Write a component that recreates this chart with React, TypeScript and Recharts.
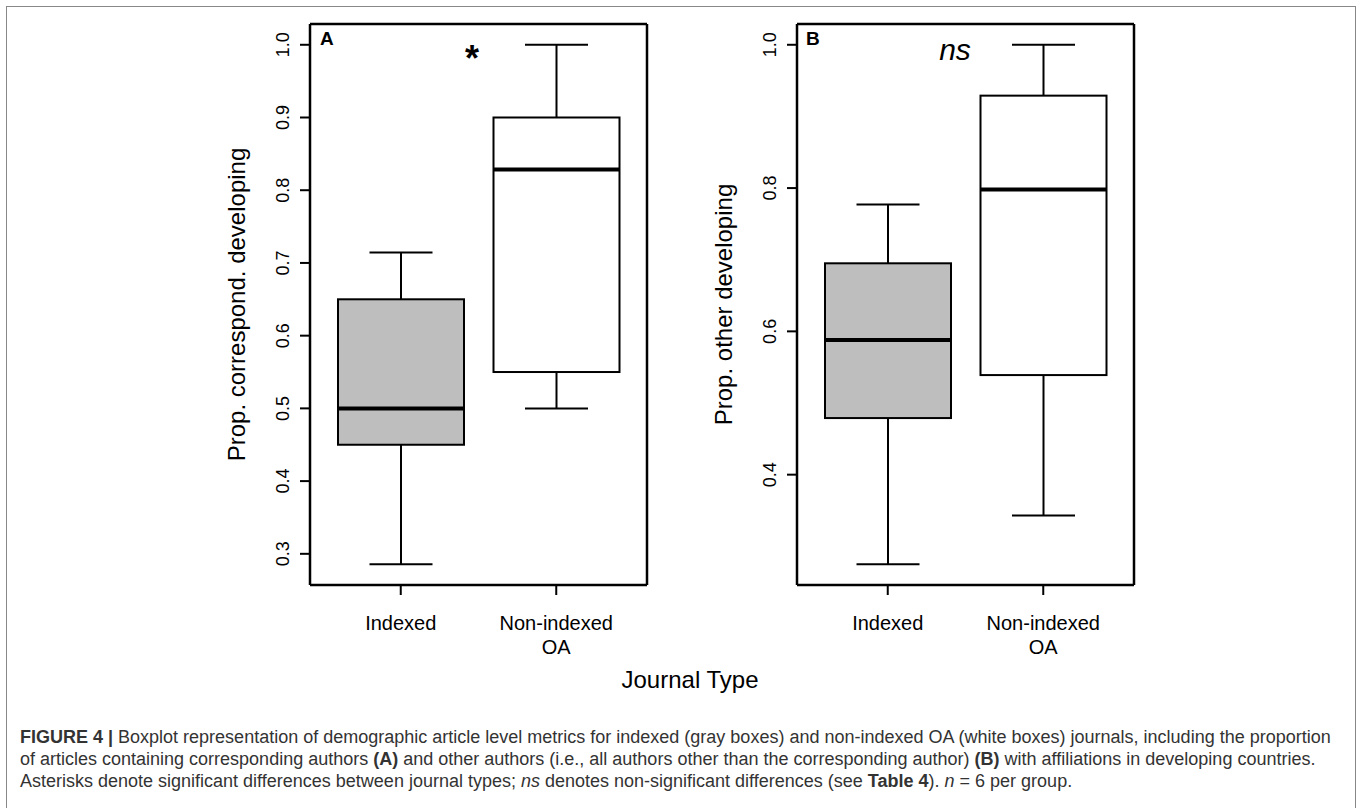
import React from 'react';
import { ComposedChart, Bar, XAxis, YAxis, CartesianGrid } from 'recharts';

// ---------- data ----------
const categories = ['Indexed', 'Non-indexed\nOA'];

// Panel A: proportion of articles with corresponding author in developing countries
const aMin = [0.2857, 0.5];
const aQ1 = [0.45, 0.55];
const aMedian = [0.5, 0.8286];
const aQ3 = [0.65, 0.9];
const aMax = [0.7143, 1.0];
const aTicks = [0.3, 0.4, 0.5, 0.6, 0.7, 0.8, 0.9, 1.0];
const aTitle = 'Prop. correspond. developing';

// Panel B: proportion of articles with other authors in developing countries
const bMin = [0.275, 0.343];
const bQ1 = [0.479, 0.539];
const bMedian = [0.588, 0.798];
const bQ3 = [0.695, 0.929];
const bMax = [0.777, 1.0];
const bTicks = [0.4, 0.6, 0.8, 1.0];
const bTitle = 'Prop. other developing';

const xTitle = 'Journal Type';
const boxFills = ['#BEBEBE', '#FFFFFF'];

const FONT = '"Liberation Sans", Arial, Helvetica, sans-serif';

function buildRows(mins: number[], q1s: number[], meds: number[], q3s: number[], maxs: number[]) {
  return categories.map((name, i) => ({
    name,
    min: mins[i],
    q1: q1s[i],
    med: meds[i],
    q3: q3s[i],
    max: maxs[i],
    fill: boxFills[i],
  }));
}

// R-style axis range: data range extended by 4% on each side
function rDomain(mins: number[], maxs: number[]): [number, number] {
  const lo = Math.min(...mins);
  const hi = Math.max(...maxs);
  const pad = (hi - lo) * 0.04;
  return [lo - pad, hi + pad];
}

const BoxShape = (props: any) => {
  const { x, y, width, height, payload } = props;
  const top = Math.min(y, y + height);
  const bottom = Math.max(y, y + height);
  const { min, q1, med, q3, max, fill } = payload;
  const py = (v: number) => top + ((max - v) / (max - min)) * (bottom - top);
  const cx = x + width / 2;
  const cap = width / 4;
  return (
    <g>
      <line x1={cx} x2={cx} y1={py(max)} y2={py(q3)} stroke="#000" strokeWidth={2} />
      <line x1={cx} x2={cx} y1={py(q1)} y2={py(min)} stroke="#000" strokeWidth={2} />
      <line x1={cx - cap} x2={cx + cap} y1={py(max)} y2={py(max)} stroke="#000" strokeWidth={2} />
      <line x1={cx - cap} x2={cx + cap} y1={py(min)} y2={py(min)} stroke="#000" strokeWidth={2} />
      <rect x={x} y={py(q3)} width={width} height={py(q1) - py(q3)} fill={fill} stroke="#000" strokeWidth={2} />
      <line x1={x} x2={x + width} y1={py(med)} y2={py(med)} stroke="#000" strokeWidth={4} />
    </g>
  );
};

const YTick = (props: any) => {
  const { x, y, payload } = props;
  const bx = x - 11;
  return (
    <text
      x={bx}
      y={y}
      transform={`rotate(-90 ${bx} ${y})`}
      textAnchor="middle"
      fontFamily={FONT}
      fontSize={18}
      fill="#000"
    >
      {payload.value.toFixed(1)}
    </text>
  );
};

const XTick = (props: any) => {
  const { x, y, payload } = props;
  const lines = String(payload.value).split('\n');
  return (
    <text x={x} y={y + 34.5} textAnchor="middle" fontFamily={FONT} fontSize={20} fill="#000">
      {lines.map((l, i) => (
        <tspan key={i} x={x} dy={i === 0 ? 0 : 24}>
          {l}
        </tspan>
      ))}
    </text>
  );
};

const makeYTitle = (text: string) => (p: any) => {
  const vb = p.viewBox || {};
  const bx = vb.x + vb.width - 65;
  const cy = vb.y + vb.height / 2;
  return (
    <text
      x={bx}
      y={cy}
      transform={`rotate(-90 ${bx} ${cy})`}
      textAnchor="middle"
      fontFamily={FONT}
      fontSize={24}
      fill="#000"
    >
      {text}
    </text>
  );
};

const tickStroke = { stroke: '#000', strokeWidth: 2 };

// plot frame (R's box()) drawn at the plot-area edges
const frameH = ({ offset }: any) => [offset.top, offset.top + offset.height];
const frameV = ({ offset }: any) => [offset.left, offset.left + offset.width];

function Panel(props: {
  rows: any[];
  domain: [number, number];
  ticks: number[];
  title: string;
  yAxisWidth: number;
  rightMargin: number;
}) {
  const { rows, domain, ticks, title, yAxisWidth, rightMargin } = props;
  return (
    <ComposedChart
      width={680}
      height={700}
      data={rows}
      margin={{ top: 24, right: rightMargin, bottom: 0, left: 0 }}
    >
      <CartesianGrid
        stroke="#000"
        strokeWidth={2.5}
        fill="none"
        horizontalCoordinatesGenerator={frameH}
        verticalCoordinatesGenerator={frameV}
        syncWithTicks={false}
      />
      <XAxis
        dataKey="name"
        type="category"
        height={115}
        padding={{ left: 13, right: 13 }}
        axisLine={false}
        tickLine={tickStroke}
        tickSize={10}
        tickMargin={0}
        tick={<XTick />}
        interval={0}
      />
      <YAxis
        type="number"
        domain={domain}
        allowDataOverflow
        ticks={ticks}
        width={yAxisWidth}
        axisLine={false}
        tickLine={tickStroke}
        tickSize={10}
        tickMargin={0}
        tick={<YTick />}
        label={{ value: title, content: makeYTitle(title) }}
      />
      <Bar
        dataKey={(d: any) => [d.min, d.max]}
        barSize={126}
        shape={<BoxShape />}
        isAnimationActive={false}
      />
    </ComposedChart>
  );
}

export default function App() {
  const rowsA = buildRows(aMin, aQ1, aMedian, aQ3, aMax);
  const rowsB = buildRows(bMin, bQ1, bMedian, bQ3, bMax);
  const domA = rDomain(aMin, aMax);
  const domB = rDomain(bMin, bMax);
  const caption: React.CSSProperties = {
    position: 'absolute',
    left: 20,
    top: 726,
    fontFamily: FONT,
    fontSize: 18,
    lineHeight: '22px',
    color: '#333',
    whiteSpace: 'nowrap',
  };
  return (
    <div style={{ position: 'absolute', left: 0, top: 0, width: 1360, height: 808, background: '#fff', overflow: 'hidden' }}>
      <div
        style={{
          position: 'absolute',
          left: 6,
          top: 6,
          width: 1350,
          height: 804,
          border: '1.5px solid #888',
          boxSizing: 'border-box',
        }}
      />
      <div style={{ position: 'absolute', left: 0, top: 0 }}>
        <Panel rows={rowsA} domain={domA} ticks={aTicks} title={aTitle} yAxisWidth={310} rightMargin={33} />
      </div>
      <div style={{ position: 'absolute', left: 680, top: 0 }}>
        <Panel rows={rowsB} domain={domB} ticks={bTicks} title={bTitle} yAxisWidth={117} rightMargin={226} />
      </div>
      <svg
        width={1360}
        height={808}
        style={{ position: 'absolute', left: 0, top: 0, pointerEvents: 'none' }}
      >
        <text x={320} y={45} fontFamily={FONT} fontWeight="bold" fontSize={19}>A</text>
        <text x={472} y={71} textAnchor="middle" fontFamily={FONT} fontWeight="bold" fontSize={36}>*</text>
        <text x={806} y={45} fontFamily={FONT} fontWeight="bold" fontSize={19}>B</text>
        <text x={955} y={60} textAnchor="middle" fontFamily={FONT} fontStyle="italic" fontSize={30}>ns</text>
        <text x={690} y={688} textAnchor="middle" fontFamily={FONT} fontSize={24}>{xTitle}</text>
      </svg>
      <div style={caption}>
        <div>
          <b>FIGURE 4 |</b> Boxplot representation of demographic article level metrics for indexed (gray boxes) and non-indexed OA (white boxes) journals, including the proportion
        </div>
        <div>
          of articles containing corresponding authors <b>(A)</b> and other authors (i.e., all authors other than the corresponding author) <b>(B)</b> with affiliations in developing countries.
        </div>
        <div>
          Asterisks denote significant differences between journal types; <i>ns</i> denotes non-significant differences (see <b>Table 4</b>). <i>n</i> = 6 per group.
        </div>
      </div>
    </div>
  );
}
